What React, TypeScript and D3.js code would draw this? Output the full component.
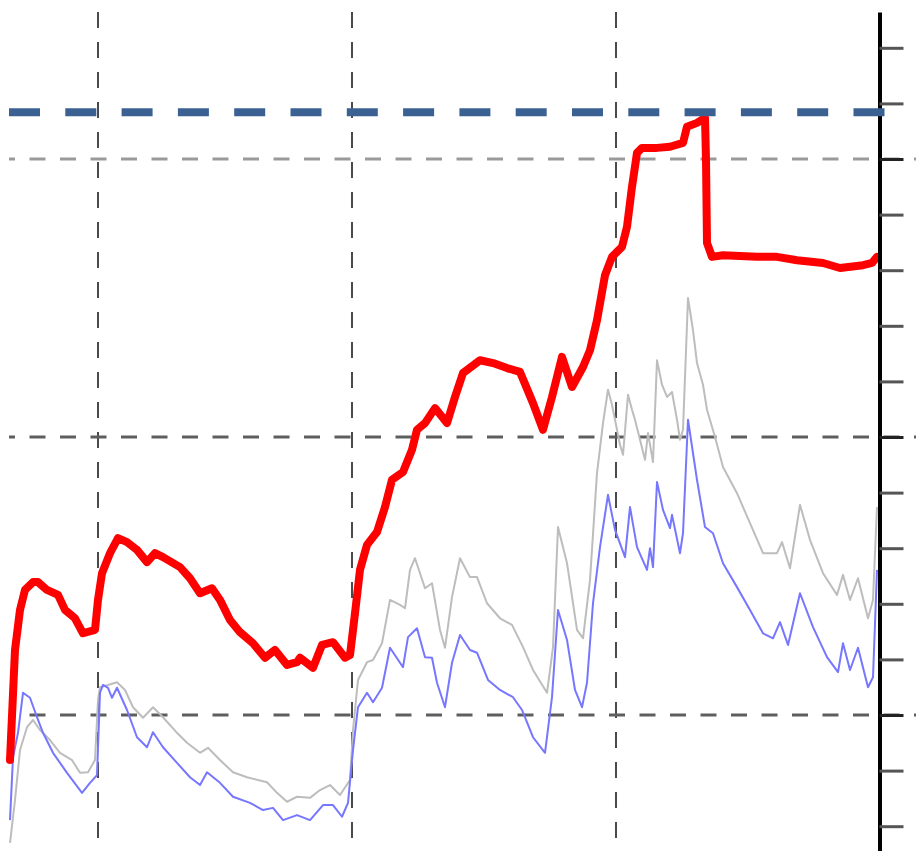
import { useEffect, useRef } from "react";
import * as d3 from "d3";

// x in chart units (0 = left start of the series), y in axis units (one minor tick = 1)
const RED: [number, number][] = [
  [0, -0.81], [5, 1.17], [10, 1.89], [15, 2.25], [23, 2.39], [28, 2.39], [37, 2.25], [48, 2.16],
  [55, 1.89], [65, 1.74], [73, 1.47], [85, 1.53], [88, 2.07], [92, 2.55], [100, 2.91], [108, 3.18],
  [117, 3.11], [127, 2.97], [137, 2.75], [145, 2.91], [153, 2.84], [170, 2.66], [180, 2.46],
  [190, 2.19], [202, 2.28], [210, 2.07], [220, 1.71], [230, 1.49], [243, 1.29], [255, 1.03],
  [265, 1.17], [277, 0.9], [287, 0.95], [290, 1.03], [303, 0.85], [312, 1.26], [323, 1.31],
  [335, 1.03], [340, 1.08], [345, 1.83], [350, 2.61], [357, 3.06], [367, 3.29], [375, 3.74],
  [382, 4.23], [393, 4.37], [402, 4.77], [407, 5.13], [415, 5.25], [425, 5.52], [437, 5.25],
  [445, 5.72], [453, 6.15], [470, 6.38], [483, 6.33], [497, 6.24], [510, 6.17], [523, 5.61],
  [533, 5.13], [542, 5.72], [552, 6.44], [562, 5.9], [573, 6.26], [580, 6.56], [587, 7.1],
  [595, 7.91], [602, 8.24], [612, 8.42], [617, 8.78], [622, 9.5], [627, 10.11], [632, 10.2],
  [647, 10.2], [660, 10.22], [673, 10.29], [677, 10.58], [687, 10.65], [695, 10.74], [696, 9.98],
  [697, 8.49], [702, 8.24], [713, 8.27], [747, 8.24], [767, 8.24], [787, 8.18], [813, 8.13],
  [830, 8.04], [853, 8.09], [862, 8.13], [867, 8.24],
];

const GRAY: [number, number][] = [
  [0, -2.3], [5, -1.53], [10, -0.63], [17, -0.22], [23, -0.09], [30, -0.27], [40, -0.45],
  [50, -0.68], [62, -0.81], [70, -1.04], [78, -1.03], [85, -0.81], [88, 0.27], [90, 0.5],
  [98, 0.54], [107, 0.59], [115, 0.45], [123, 0.14], [133, -0.05], [143, 0.14], [153, -0.04],
  [167, -0.32], [177, -0.5], [190, -0.68], [198, -0.59], [210, -0.81], [223, -1.03], [237, -1.12],
  [257, -1.21], [267, -1.4], [277, -1.56], [287, -1.47], [300, -1.49], [310, -1.35], [320, -1.26],
  [330, -1.44], [340, -1.17], [343, -0.27], [348, 0.63], [357, 0.95], [363, 0.99], [372, 1.29],
  [380, 2.07], [390, 1.98], [395, 1.92], [400, 2.61], [405, 2.82], [415, 2.28], [422, 2.37],
  [430, 1.53], [435, 1.21], [442, 2.12], [450, 2.82], [460, 2.48], [467, 2.48], [477, 2.01],
  [490, 1.74], [502, 1.62], [513, 1.22], [523, 0.81], [537, 0.4], [543, 1.22], [548, 3.38],
  [557, 2.73], [567, 1.53], [573, 1.38], [580, 2.43], [587, 4.35], [593, 5.25], [598, 5.85],
  [602, 5.58], [605, 5.31], [610, 4.86], [613, 4.68], [618, 5.76], [622, 5.49], [625, 5.31],
  [630, 4.95], [635, 4.59], [638, 5.07], [643, 4.55], [647, 6.38], [652, 5.94], [657, 5.72],
  [662, 5.81], [667, 5.31], [670, 4.95], [673, 5.13], [678, 7.5], [683, 6.92], [687, 6.33],
  [693, 5.94], [697, 5.49], [705, 5.0], [713, 4.46], [727, 3.99], [740, 3.45], [753, 2.91],
  [767, 2.91], [772, 3.11], [780, 2.64], [790, 3.78], [800, 3.15], [813, 2.55], [827, 2.16],
  [833, 2.52], [840, 2.07], [848, 2.46], [858, 1.74], [863, 2.07], [867, 3.74],
];

const BLUE: [number, number][] = [
  [0, -1.89], [3, -0.76], [8, -0.32], [13, 0.4], [20, 0.31], [27, -0.04], [33, -0.32],
  [43, -0.68], [57, -1.04], [72, -1.4], [80, -1.22], [87, -1.08], [90, 0.4], [93, 0.54],
  [98, 0.49], [102, 0.31], [107, 0.49], [117, 0.09], [127, -0.4], [137, -0.58], [143, -0.31],
  [153, -0.58], [167, -0.86], [180, -1.12], [190, -1.26], [197, -1.03], [210, -1.22],
  [223, -1.47], [240, -1.58], [253, -1.71], [263, -1.67], [273, -1.89], [287, -1.8], [300, -1.89],
  [313, -1.62], [323, -1.62], [332, -1.83], [338, -1.58], [343, -0.63], [348, 0.14], [357, 0.4],
  [363, 0.23], [372, 0.49], [380, 1.21], [393, 0.86], [398, 1.4], [407, 1.56], [415, 1.04],
  [422, 1.03], [427, 0.58], [435, 0.14], [442, 0.94], [450, 1.44], [460, 1.17], [467, 1.12],
  [478, 0.63], [490, 0.45], [503, 0.32], [512, 0.09], [523, -0.4], [535, -0.68], [542, 0.32],
  [548, 1.89], [557, 1.35], [565, 0.45], [572, 0.14], [577, 0.58], [583, 2.01], [590, 3.02],
  [598, 3.96], [605, 3.33], [615, 2.84], [620, 3.74], [627, 3.02], [637, 2.61], [640, 3.0],
  [643, 2.66], [647, 4.19], [653, 3.69], [660, 3.36], [662, 3.6], [670, 2.91], [673, 3.27],
  [678, 5.31], [687, 4.23], [695, 3.38], [703, 3.27], [713, 2.73], [727, 2.3], [740, 1.89],
  [753, 1.47], [763, 1.38], [770, 1.67], [778, 1.26], [790, 2.19], [803, 1.58], [817, 1.04],
  [828, 0.77], [833, 1.29], [840, 0.81], [848, 1.21], [858, 0.5], [863, 0.68], [867, 2.61],
];

const V_GRID = [88, 342, 606];
const H_GRID = [0, 5, 10];
const Y_TICKS = d3.range(-2, 13);
const THRESHOLD = 10.84;

export default function App() {
  const ref = useRef<SVGSVGElement>(null);

  useEffect(() => {
    if (!ref.current) return;
    const W = 916;
    const H = 851;
    const svg = d3.select(ref.current);
    svg.selectAll("*").remove();

    const x = d3.scaleLinear().domain([0, 868]).range([10, 878]);
    const y = d3.scaleLinear().domain([-2.446, 12.644]).range([H, 12]);
    const axisX = 879.5;

    svg.append("rect").attr("width", W).attr("height", H).attr("fill", "#fff");

    // vertical grid
    V_GRID.forEach((v) => {
      svg.append("line")
        .attr("x1", x(v)).attr("x2", x(v))
        .attr("y1", 12).attr("y2", H)
        .attr("stroke", "#4a4a4a")
        .attr("stroke-width", 2)
        .attr("stroke-dasharray", "16 14");
    });

    // horizontal grid
    H_GRID.forEach((v) => {
      svg.append("line")
        .attr("x1", 9).attr("x2", W)
        .attr("y1", y(v)).attr("y2", y(v))
        .attr("stroke", v === 10 ? "#9a9a9a" : "#5e5e5e")
        .attr("stroke-width", 3)
        .attr("stroke-dasharray", "16 14.5")
        .attr("stroke-dashoffset", 10);
    });

    const line = d3.line<[number, number]>()
      .x((d) => x(d[0]))
      .y((d) => y(d[1]));

    svg.append("path").datum(GRAY)
      .attr("d", line).attr("fill", "none")
      .attr("stroke", "#bdbdbd").attr("stroke-width", 2)
      .attr("stroke-linejoin", "round");

    svg.append("path").datum(BLUE)
      .attr("d", line).attr("fill", "none")
      .attr("stroke", "#7676ff").attr("stroke-width", 2)
      .attr("stroke-linejoin", "round");

    svg.append("path").datum(RED)
      .attr("d", line).attr("fill", "none")
      .attr("stroke", "#ff0000").attr("stroke-width", 8)
      .attr("stroke-linejoin", "round").attr("stroke-linecap", "round");

    // right axis
    const axis = svg.append("g")
      .attr("transform", `translate(${axisX},0)`)
      .call(d3.axisRight(y).tickValues(Y_TICKS).tickSize(24).tickSizeOuter(0).tickFormat(() => ""));
    axis.select(".domain").attr("stroke", "#000").attr("stroke-width", 4);
    axis.selectAll(".tick line")
      .attr("stroke", (d: any) => (H_GRID.includes(d) ? "#222" : "#555"))
      .attr("stroke-width", 3);

    // threshold
    svg.append("line")
      .attr("x1", 9).attr("x2", 885)
      .attr("y1", y(THRESHOLD)).attr("y2", y(THRESHOLD))
      .attr("stroke", "#3b6193")
      .attr("stroke-width", 8)
      .attr("stroke-dasharray", "31 25.3");
  }, []);

  return (
    <div style={{ position: "absolute", left: 0, top: 0 }}>
      <svg ref={ref} width={916} height={851} style={{ display: "block" }} />
    </div>
  );
}
